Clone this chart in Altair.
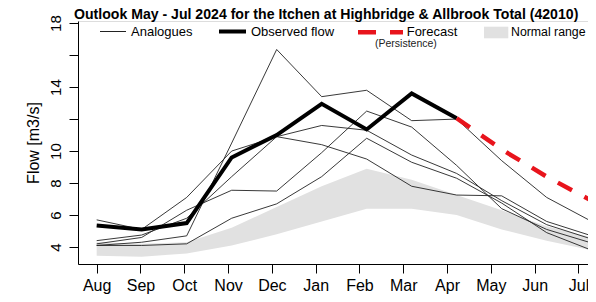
import altair as alt
import pandas as pd

# ---------------- data ----------------
MONTHS = ["Aug", "Sep", "Oct", "Nov", "Dec", "Jan", "Feb", "Mar", "Apr", "May", "Jun", "Jul"]

NORMAL_LOW = [3.45, 3.4, 3.6, 4.1, 4.8, 5.6, 6.4, 6.4, 6.0, 5.1, 4.4, 3.8]
NORMAL_HIGH = [4.3, 4.2, 4.3, 5.2, 6.5, 7.8, 8.9, 8.2, 7.25, 6.3, 5.3, 4.6]

ANALOGUE_A = [4.1, 4.3, 4.7, 10.5, 16.35, 13.4, 13.8, 11.9, 12.0, 9.4, 7.1, 5.6]
ANALOGUE_B = [4.2, 4.6, 6.3, 7.55, 7.5, 9.9, 12.5, 11.5, 9.1, 6.4, 5.1, 4.25]
ANALOGUE_C = [5.7, 5.1, 7.1, 10.0, 10.9, 11.6, 11.3, 9.75, 8.6, 6.9, 5.4, 4.5]
ANALOGUE_D = [4.4, 4.75, 5.8, 8.4, 10.9, 10.4, 9.5, 7.8, 7.25, 7.2, 5.6, 4.7]
ANALOGUE_E = [4.1, 4.1, 4.2, 5.8, 6.7, 8.4, 10.8, 9.3, 8.3, 6.75, 4.9, 3.8]

OBSERVED = [5.35, 5.1, 5.5, 9.6, 11.0, 12.95, 11.35, 13.6, 12.05]      # Aug..Apr
FORECAST = [12.05, 10.1, 8.4, 6.9]                                      # Apr..Jul

Y_TICKS = [4, 6, 8, 10, 12, 14, 16, 18]
Y_HIDDEN = [12, 16]
TICK_STEP = 0.9733   # month ticks are slightly closer together than data points

TITLE = "Outlook May - Jul 2024 for the Itchen at Highbridge & Allbrook Total (42010)"
FONT = "Liberation Sans"

# ---------------- tables ----------------
idx = list(range(len(MONTHS)))
band_df = pd.DataFrame({"x": idx, "lo": NORMAL_LOW, "hi": NORMAL_HIGH})
rows = []
for name, vals in [("A", ANALOGUE_A), ("B", ANALOGUE_B), ("C", ANALOGUE_C),
                   ("D", ANALOGUE_D), ("E", ANALOGUE_E)]:
    for i, v in enumerate(vals):
        rows.append({"x": i, "flow": v, "series": name})
ana_df = pd.DataFrame(rows)
obs_df = pd.DataFrame({"x": idx[:len(OBSERVED)], "flow": OBSERVED})
fc_df = pd.DataFrame({"x": idx[len(OBSERVED) - 1:], "flow": FORECAST})
one = pd.DataFrame({"k": [0]})

xscale = alt.Scale(domain=[-0.415, 10.918], nice=False, zero=False)
yscale = alt.Scale(domain=[2.94, 18.13], nice=False, zero=False)

month_arr = "[" + ",".join("'%s'" % m for m in MONTHS) + "]"
xaxis = alt.Axis(
    values=[round(i * TICK_STEP, 4) for i in idx],
    labelExpr=month_arr + "[round(datum.value / %s)]" % TICK_STEP,
    title=None, grid=False, tickSize=9, tickColor="black", domainColor="black",
    labelFont=FONT, labelFontSize=16, labelColor="black", labelPadding=17.5,
    labelBaseline="alphabetic", labelAlign="center", labelFlush=False,
    labelOverlap=False, labelBound=False,
)
hidden = " || ".join("datum.value == %s" % v for v in Y_HIDDEN)
yaxis = alt.Axis(
    values=Y_TICKS, labelExpr="(%s) ? '' : datum.label" % hidden,
    title="Flow [m3/s]", titleFont=FONT, titleFontSize=16, titleFontWeight="normal",
    titleColor="black", titleAngle=270, titleAlign="center", titleBaseline="alphabetic",
    titleX=-39.5, titleY=121.5,
    grid=False, tickSize=9, tickColor="black", domainColor="black",
    labelFont=FONT, labelFontSize=15, labelColor="black", labelAngle=270,
    labelAlign="center", labelBaseline="alphabetic", labelPadding=9,
    labelOverlap=False, labelBound=False, labelFlush=False,
)

X = alt.X("x:Q", scale=xscale, axis=xaxis)

band = alt.Chart(band_df).mark_area(color="#e1e1e1", opacity=1, clip=True).encode(
    x=X, y=alt.Y("lo:Q", scale=yscale, axis=yaxis), y2="hi:Q")

analogues = alt.Chart(ana_df).mark_line(color="#222222", strokeWidth=0.9, clip=True).encode(
    x=X, y=alt.Y("flow:Q", scale=yscale, axis=yaxis), detail="series:N")

observed = alt.Chart(obs_df).mark_line(color="black", strokeWidth=4, clip=True).encode(
    x=X, y=alt.Y("flow:Q", scale=yscale, axis=yaxis))

forecast = alt.Chart(fc_df).mark_line(color="#e8141c", strokeWidth=4.5, clip=True,
                                      strokeDash=[16, 14], strokeCap="butt").encode(
    x=X, y=alt.Y("flow:Q", scale=yscale, axis=yaxis))

# ---------------- legend & title ----------------
def txt(s, x, y, size=13, weight="normal", color="black"):
    return alt.Chart(one).mark_text(align="left", baseline="alphabetic", font=FONT,
                                    fontSize=size, fontWeight=weight, color=color).encode(
        x=alt.value(x), y=alt.value(y), text=alt.value(s))

def seg(x1, x2, y, color, width, dash=None):
    kw = dict(color=color, strokeWidth=width, strokeCap="butt")
    if dash:
        kw["strokeDash"] = dash
    return alt.Chart(one).mark_rule(**kw).encode(
        x=alt.value(x1), x2=alt.value(x2), y=alt.value(y))

legend = [
    seg(22, 48, 10.5, "#222222", 1),
    txt("Analogues", 53, 15),
    seg(141, 168, 10.5, "black", 4),
    txt("Observed flow", 173, 15),
    seg(280, 325, 11.3, "#e8141c", 4.5, [18, 14]),
    txt("Forecast", 328.7, 15),
    txt("(Persistence)", 297, 26, size=10.5, color="#222222"),
    alt.Chart(one).mark_rect(color="#e1e1e1").encode(
        x=alt.value(406), x2=alt.value(430.3), y=alt.value(5.7), y2=alt.value(17.3)),
    txt("Normal range", 433, 15, size=12.3),
    txt(TITLE, -4, -1.8, size=14.1, weight="bold"),
]

chart = alt.layer(band, analogues, observed, forecast, *legend).properties(
    width=510, height=243,
    autosize=alt.AutoSizeParams(type="none"),
    padding={"left": 70, "top": 13, "right": 0, "bottom": 30},
).configure_view(stroke=None).configure(font=FONT)

chart.save("out.html", embed_options={"renderer": "svg", "actions": False})
